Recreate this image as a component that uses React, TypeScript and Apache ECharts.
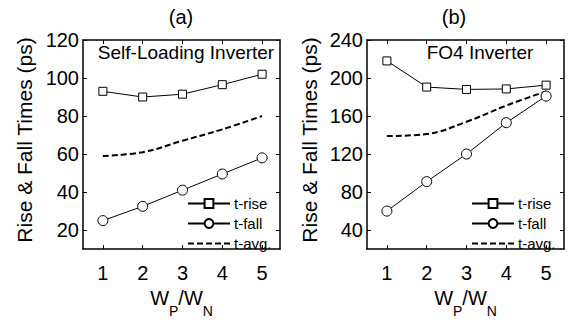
import React, { useEffect, useRef } from "react";
import * as echarts from "echarts";

const FONT = "Arial, 'Liberation Sans', Helvetica, sans-serif";

const xValues = [1, 2, 3, 4, 5];
const xTicks = [1, 2, 3, 4, 5];
const xRange = [0.5, 5.45];

// Panel (a): Self-Loading Inverter
const riseA = [93, 90, 91.5, 96.5, 102];
const fallA = [25, 32.5, 41, 49.5, 58];
const avgA = [59, 61, 67, 73, 80];
const yTicksA = [20, 40, 60, 80, 100, 120];
const yRangeA = [10, 120];

// Panel (b): FO4 Inverter
const riseB = [218, 190.5, 188, 188.5, 192.5];
const fallB = [60, 91, 120, 153, 181];
const avgB = [139, 141, 154, 171, 186];
const yTicksB = [40, 80, 120, 160, 200, 240];
const yRangeB = [20, 240];

const legendNames = ["t-rise", "t-fall", "t-avg."];
const panelTitles = ["(a)", "(b)"];
const panelNotes = ["Self-Loading Inverter", "FO4 Inverter"];
const yTitle = "Rise & Fall Times (ps)";

const pairs = (ys: number[]) => xValues.map((x, i) => [x, ys[i]]);

export default function App() {
  const ref = useRef<HTMLDivElement>(null);

  useEffect(() => {
    if (!ref.current) return;
    const chart = echarts.init(ref.current, null, { renderer: "svg" });

    const axisLine = { show: true, onZero: false, lineStyle: { color: "#000", width: 1.5 } };
    const grids = [
      { left: 83, top: 40, width: 197, height: 221 },
      { left: 367, top: 40, width: 197, height: 221 },
    ];
    const yRanges = [yRangeA, yRangeB];
    const yTickSets = [yTicksA, yTicksB];

    const xAxis: any[] = [];
    const yAxis: any[] = [];
    [0, 1].forEach((g) => {
      xAxis.push({
        gridIndex: g,
        type: "value",
        position: "bottom",
        min: xRange[0],
        max: xRange[1],
        axisLine,
        splitLine: { show: false },
        axisTick: { inside: true, length: 4, customValues: xTicks, lineStyle: { color: "#000", width: 1 } },
        axisLabel: { customValues: xTicks, fontSize: 20, color: "#000", fontFamily: FONT, margin: 14 },
        name: "{w|W}{s|P}{w|/W}{s|N}",
        nameLocation: "middle",
        nameGap: 33,
        nameTextStyle: {
          color: "#000",
          fontFamily: FONT,
          rich: {
            w: { fontSize: 20, lineHeight: 20, verticalAlign: "top", fontFamily: FONT, color: "#000" },
            s: { fontSize: 14, lineHeight: 14, padding: [16, 0, 0, 0], verticalAlign: "top", fontFamily: FONT, color: "#000" },
          },
        },
      });
      xAxis.push({
        gridIndex: g,
        type: "value",
        position: "top",
        min: xRange[0],
        max: xRange[1],
        axisLine,
        splitLine: { show: false },
        axisTick: { inside: true, length: 4, customValues: xTicks, lineStyle: { color: "#000", width: 1 } },
        axisLabel: { show: false },
      });
      yAxis.push({
        gridIndex: g,
        type: "value",
        position: "left",
        min: yRanges[g][0],
        max: yRanges[g][1],
        axisLine,
        splitLine: { show: false },
        axisTick: { inside: true, length: 4, customValues: yTickSets[g], lineStyle: { color: "#000", width: 1 } },
        axisLabel: { customValues: yTickSets[g], fontSize: 20, color: "#000", fontFamily: FONT, margin: 4 },
      });
      yAxis.push({
        gridIndex: g,
        type: "value",
        position: "right",
        min: yRanges[g][0],
        max: yRanges[g][1],
        axisLine,
        splitLine: { show: false },
        axisTick: { inside: true, length: 4, customValues: yTickSets[g], lineStyle: { color: "#000", width: 1 } },
        axisLabel: { show: false },
      });
    });

    const markerStyle = { color: "#fff", borderColor: "#000", borderWidth: 1 };
    const seriesFor = (g: number, rise: number[], fall: number[], avg: number[]) => [
      {
        name: legendNames[0],
        type: "line",
        xAxisIndex: g * 2,
        yAxisIndex: g * 2,
        data: pairs(rise),
        symbol: "rect",
        symbolSize: 8,
        itemStyle: markerStyle,
        lineStyle: { color: "#000", width: 1 },
        z: 3,
      },
      {
        name: legendNames[1],
        type: "line",
        xAxisIndex: g * 2,
        yAxisIndex: g * 2,
        data: pairs(fall),
        symbol: "circle",
        symbolSize: 10,
        itemStyle: markerStyle,
        lineStyle: { color: "#000", width: 1 },
        z: 3,
      },
      {
        name: legendNames[2],
        type: "line",
        xAxisIndex: g * 2,
        yAxisIndex: g * 2,
        data: pairs(avg),
        symbol: "none",
        smooth: 0.4,
        itemStyle: { color: "rgba(0,0,0,0)", borderWidth: 0 },
        lineStyle: { color: "#000", width: 2, type: [6, 3] },
        z: 2,
      },
    ];

    const legendBase = {
      orient: "vertical",
      itemWidth: 42,
      itemHeight: 11,
      itemGap: 5,
      padding: 0,
      selectedMode: false,
      data: legendNames,
      textStyle: { fontSize: 15, color: "#000", fontFamily: FONT, padding: [0, 0, 0, -1] },
    };

    const textStyle = (t: string, size: number) => ({ text: t, fontSize: size, fontFamily: FONT, fill: "#000" });

    chart.setOption({
      animation: false,
      backgroundColor: "#fff",
      grid: grids,
      xAxis,
      yAxis,
      legend: [
        { ...legendBase, left: 187, top: 196 },
        { ...legendBase, left: 471, top: 196 },
      ],
      series: [...seriesFor(0, riseA, fallA, avgA), ...seriesFor(1, riseB, fallB, avgB)],
      graphic: [
        { type: "text", x: 181, y: 17, style: { ...textStyle(panelTitles[0], 20), textAlign: "center", textVerticalAlign: "middle" } },
        { type: "text", x: 454, y: 17, style: { ...textStyle(panelTitles[1], 20), textAlign: "center", textVerticalAlign: "middle" } },
        { type: "text", x: 186, y: 52, style: { ...textStyle(panelNotes[0], 19), textAlign: "center", textVerticalAlign: "middle" } },
        { type: "text", x: 480, y: 52, style: { ...textStyle(panelNotes[1], 19), textAlign: "center", textVerticalAlign: "middle" } },
        { type: "text", x: 24, y: 140, rotation: Math.PI / 2, style: { ...textStyle(yTitle, 21), textAlign: "center", textVerticalAlign: "middle" } },
        { type: "text", x: 309, y: 140, rotation: Math.PI / 2, style: { ...textStyle(yTitle, 21), textAlign: "center", textVerticalAlign: "middle" } },
      ],
    });

    return () => chart.dispose();
  }, []);

  return <div ref={ref} style={{ width: 571, height: 323, position: "absolute", left: 0, top: 0 }} />;
}
